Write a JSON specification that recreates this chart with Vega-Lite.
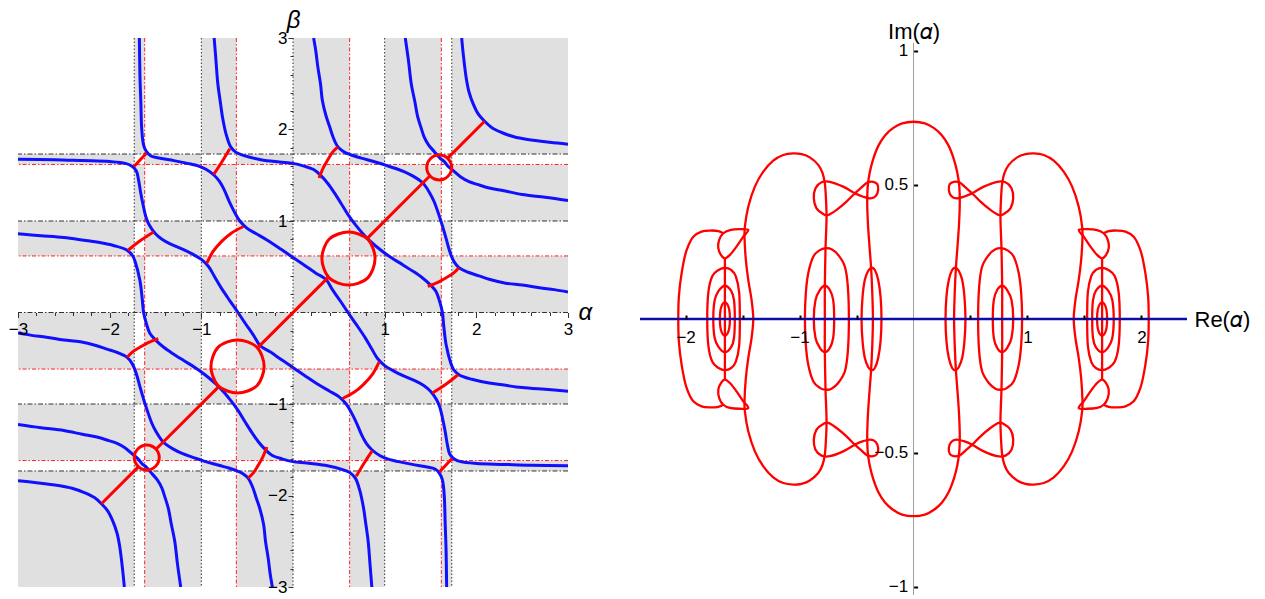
{
  "$schema": "https://vega.github.io/schema/vega-lite/v6.json",
  "background": "white",
  "padding": {"left": 8, "top": 8, "right": 4, "bottom": 4},
  "autosize": {"type": "pad"},
  "bounds": "flush",
  "spacing": 72,
  "config": {
    "view": {"stroke": null},
    "font": "Liberation Sans",
    "axis": {"grid": false, "labelFont": "Liberation Sans", "titleFont": "Liberation Sans", "labelColor": "black", "titleColor": "black", "tickColor": "black", "titleFontWeight": "normal", "labelFlush": false, "labelOverlap": false}
  },
  "datasets": {
    "cells": [
      {"x": -3, "x2": -1.732, "y": -3, "y2": -1.732}, {"x": -3, "x2": -1.732, "y": -1.618, "y2": -1}, {"x": -3, "x2": -1.732, "y": -0.618, "y2": 0}, {"x": -3, "x2": -1.732, "y": 0.618, "y2": 1}, {"x": -3, "x2": -1.732, "y": 1.618, "y2": 1.732},
      {"x": -1.618, "x2": -1, "y": -3, "y2": -1.732}, {"x": -1.618, "x2": -1, "y": -1.618, "y2": -1}, {"x": -1.618, "x2": -1, "y": -0.618, "y2": 0}, {"x": -1.618, "x2": -1, "y": 0.618, "y2": 1}, {"x": -1.618, "x2": -1, "y": 1.618, "y2": 1.732},
      {"x": -0.618, "x2": 0, "y": -3, "y2": -1.732}, {"x": -0.618, "x2": 0, "y": -1.618, "y2": -1}, {"x": -0.618, "x2": 0, "y": -0.618, "y2": 0}, {"x": -0.618, "x2": 0, "y": 0.618, "y2": 1}, {"x": -0.618, "x2": 0, "y": 1.618, "y2": 1.732},
      {"x": 0.618, "x2": 1, "y": -3, "y2": -1.732}, {"x": 0.618, "x2": 1, "y": -1.618, "y2": -1}, {"x": 0.618, "x2": 1, "y": -0.618, "y2": 0}, {"x": 0.618, "x2": 1, "y": 0.618, "y2": 1}, {"x": 0.618, "x2": 1, "y": 1.618, "y2": 1.732},
      {"x": 1.618, "x2": 1.732, "y": -3, "y2": -1.732}, {"x": 1.618, "x2": 1.732, "y": -1.618, "y2": -1}, {"x": 1.618, "x2": 1.732, "y": -0.618, "y2": 0}, {"x": 1.618, "x2": 1.732, "y": 0.618, "y2": 1}, {"x": 1.618, "x2": 1.732, "y": 1.618, "y2": 1.732},
      {"x": -1.732, "x2": -1.618, "y": -1.732, "y2": -1.618}, {"x": -1.732, "x2": -1.618, "y": -1, "y2": -0.618}, {"x": -1.732, "x2": -1.618, "y": 0, "y2": 0.618}, {"x": -1.732, "x2": -1.618, "y": 1, "y2": 1.618}, {"x": -1.732, "x2": -1.618, "y": 1.732, "y2": 3},
      {"x": -1, "x2": -0.618, "y": -1.732, "y2": -1.618}, {"x": -1, "x2": -0.618, "y": -1, "y2": -0.618}, {"x": -1, "x2": -0.618, "y": 0, "y2": 0.618}, {"x": -1, "x2": -0.618, "y": 1, "y2": 1.618}, {"x": -1, "x2": -0.618, "y": 1.732, "y2": 3},
      {"x": 0, "x2": 0.618, "y": -1.732, "y2": -1.618}, {"x": 0, "x2": 0.618, "y": -1, "y2": -0.618}, {"x": 0, "x2": 0.618, "y": 0, "y2": 0.618}, {"x": 0, "x2": 0.618, "y": 1, "y2": 1.618}, {"x": 0, "x2": 0.618, "y": 1.732, "y2": 3},
      {"x": 1, "x2": 1.618, "y": -1.732, "y2": -1.618}, {"x": 1, "x2": 1.618, "y": -1, "y2": -0.618}, {"x": 1, "x2": 1.618, "y": 0, "y2": 0.618}, {"x": 1, "x2": 1.618, "y": 1, "y2": 1.618}, {"x": 1, "x2": 1.618, "y": 1.732, "y2": 3},
      {"x": 1.732, "x2": 3, "y": -1.732, "y2": -1.618}, {"x": 1.732, "x2": 3, "y": -1, "y2": -0.618}, {"x": 1.732, "x2": 3, "y": 0, "y2": 0.618}, {"x": 1.732, "x2": 3, "y": 1, "y2": 1.618}, {"x": 1.732, "x2": 3, "y": 1.732, "y2": 3}
    ],
    "blk": [{"v": -1.732}, {"v": -1}, {"v": 0}, {"v": 1}, {"v": 1.732}],
    "rdl": [{"v": -1.618}, {"v": -0.618}, {"v": 0.618}, {"v": 1.618}],
    "blue": [
      {"c":"b1","x":1.84,"y":3},{"c":"b1","x":1.86,"y":2.8},{"c":"b1","x":1.89,"y":2.56},{"c":"b1","x":1.92,"y":2.41},{"c":"b1","x":1.97,"y":2.27},{"c":"b1","x":2.02,"y":2.17},{"c":"b1","x":2.09,"y":2.09},{"c":"b1","x":2.17,"y":2.02},{"c":"b1","x":2.27,"y":1.97},{"c":"b1","x":2.41,"y":1.92},{"c":"b1","x":2.56,"y":1.89},{"c":"b1","x":2.8,"y":1.86},{"c":"b1","x":3,"y":1.84},
      {"c":"b1n","x":-1.84,"y":-3},{"c":"b1n","x":-1.86,"y":-2.8},{"c":"b1n","x":-1.89,"y":-2.56},{"c":"b1n","x":-1.92,"y":-2.41},{"c":"b1n","x":-1.97,"y":-2.27},{"c":"b1n","x":-2.02,"y":-2.17},{"c":"b1n","x":-2.09,"y":-2.09},{"c":"b1n","x":-2.17,"y":-2.02},{"c":"b1n","x":-2.27,"y":-1.97},{"c":"b1n","x":-2.41,"y":-1.92},{"c":"b1n","x":-2.56,"y":-1.89},{"c":"b1n","x":-2.8,"y":-1.86},{"c":"b1n","x":-3,"y":-1.84},
      {"c":"b2","x":1.225,"y":3},{"c":"b2","x":1.26,"y":2.75},{"c":"b2","x":1.29,"y":2.5},{"c":"b2","x":1.33,"y":2.3},{"c":"b2","x":1.36,"y":2.14},{"c":"b2","x":1.4,"y":2.01},{"c":"b2","x":1.43,"y":1.92},{"c":"b2","x":1.48,"y":1.83},{"c":"b2","x":1.54,"y":1.76},{"c":"b2","x":1.6,"y":1.69},{"c":"b2","x":1.65,"y":1.65},{"c":"b2","x":1.69,"y":1.6},{"c":"b2","x":1.76,"y":1.54},{"c":"b2","x":1.83,"y":1.48},{"c":"b2","x":1.92,"y":1.43},{"c":"b2","x":2.01,"y":1.4},{"c":"b2","x":2.14,"y":1.36},{"c":"b2","x":2.3,"y":1.33},{"c":"b2","x":2.5,"y":1.29},{"c":"b2","x":2.75,"y":1.26},{"c":"b2","x":3,"y":1.225},
      {"c":"b2n","x":-1.225,"y":-3},{"c":"b2n","x":-1.26,"y":-2.75},{"c":"b2n","x":-1.29,"y":-2.5},{"c":"b2n","x":-1.33,"y":-2.3},{"c":"b2n","x":-1.36,"y":-2.14},{"c":"b2n","x":-1.4,"y":-2.01},{"c":"b2n","x":-1.43,"y":-1.92},{"c":"b2n","x":-1.48,"y":-1.83},{"c":"b2n","x":-1.54,"y":-1.76},{"c":"b2n","x":-1.6,"y":-1.69},{"c":"b2n","x":-1.65,"y":-1.65},{"c":"b2n","x":-1.69,"y":-1.6},{"c":"b2n","x":-1.76,"y":-1.54},{"c":"b2n","x":-1.83,"y":-1.48},{"c":"b2n","x":-1.92,"y":-1.43},{"c":"b2n","x":-2.01,"y":-1.4},{"c":"b2n","x":-2.14,"y":-1.36},{"c":"b2n","x":-2.3,"y":-1.33},{"c":"b2n","x":-2.5,"y":-1.29},{"c":"b2n","x":-2.75,"y":-1.26},{"c":"b2n","x":-3,"y":-1.225},
      {"c":"b3","x":0.225,"y":3},{"c":"b3","x":0.25,"y":2.85},{"c":"b3","x":0.27,"y":2.69},{"c":"b3","x":0.3,"y":2.5},{"c":"b3","x":0.32,"y":2.32},{"c":"b3","x":0.36,"y":2.15},{"c":"b3","x":0.4,"y":2.03},{"c":"b3","x":0.44,"y":1.91},{"c":"b3","x":0.49,"y":1.81},{"c":"b3","x":0.55,"y":1.76},{"c":"b3","x":0.61,"y":1.73},{"c":"b3","x":0.7,"y":1.7},{"c":"b3","x":0.81,"y":1.67},{"c":"b3","x":1.01,"y":1.61},{"c":"b3","x":1.21,"y":1.54},{"c":"b3","x":1.31,"y":1.49},{"c":"b3","x":1.4,"y":1.43},{"c":"b3","x":1.43,"y":1.4},{"c":"b3","x":1.49,"y":1.31},{"c":"b3","x":1.54,"y":1.21},{"c":"b3","x":1.61,"y":1.01},{"c":"b3","x":1.67,"y":0.81},{"c":"b3","x":1.7,"y":0.7},{"c":"b3","x":1.73,"y":0.61},{"c":"b3","x":1.76,"y":0.55},{"c":"b3","x":1.81,"y":0.49},{"c":"b3","x":1.91,"y":0.44},{"c":"b3","x":2.03,"y":0.4},{"c":"b3","x":2.15,"y":0.36},{"c":"b3","x":2.32,"y":0.32},{"c":"b3","x":2.5,"y":0.3},{"c":"b3","x":2.69,"y":0.27},{"c":"b3","x":2.85,"y":0.25},{"c":"b3","x":3,"y":0.225},
      {"c":"b3n","x":-0.225,"y":-3},{"c":"b3n","x":-0.25,"y":-2.85},{"c":"b3n","x":-0.27,"y":-2.69},{"c":"b3n","x":-0.3,"y":-2.5},{"c":"b3n","x":-0.32,"y":-2.32},{"c":"b3n","x":-0.36,"y":-2.15},{"c":"b3n","x":-0.4,"y":-2.03},{"c":"b3n","x":-0.44,"y":-1.91},{"c":"b3n","x":-0.49,"y":-1.81},{"c":"b3n","x":-0.55,"y":-1.76},{"c":"b3n","x":-0.61,"y":-1.73},{"c":"b3n","x":-0.7,"y":-1.7},{"c":"b3n","x":-0.81,"y":-1.67},{"c":"b3n","x":-1.01,"y":-1.61},{"c":"b3n","x":-1.21,"y":-1.54},{"c":"b3n","x":-1.31,"y":-1.49},{"c":"b3n","x":-1.4,"y":-1.43},{"c":"b3n","x":-1.43,"y":-1.4},{"c":"b3n","x":-1.49,"y":-1.31},{"c":"b3n","x":-1.54,"y":-1.21},{"c":"b3n","x":-1.61,"y":-1.01},{"c":"b3n","x":-1.67,"y":-0.81},{"c":"b3n","x":-1.7,"y":-0.7},{"c":"b3n","x":-1.73,"y":-0.61},{"c":"b3n","x":-1.76,"y":-0.55},{"c":"b3n","x":-1.81,"y":-0.49},{"c":"b3n","x":-1.91,"y":-0.44},{"c":"b3n","x":-2.03,"y":-0.4},{"c":"b3n","x":-2.15,"y":-0.36},{"c":"b3n","x":-2.32,"y":-0.32},{"c":"b3n","x":-2.5,"y":-0.3},{"c":"b3n","x":-2.69,"y":-0.27},{"c":"b3n","x":-2.85,"y":-0.25},{"c":"b3n","x":-3,"y":-0.225},
      {"c":"b4p","x":-1.676,"y":3},{"c":"b4p","x":-1.67,"y":2.6},{"c":"b4p","x":-1.66,"y":2.3},{"c":"b4p","x":-1.65,"y":2},{"c":"b4p","x":-1.63,"y":1.83},{"c":"b4p","x":-1.6,"y":1.76},{"c":"b4p","x":-1.55,"y":1.71},{"c":"b4p","x":-1.45,"y":1.685},{"c":"b4p","x":-1.3,"y":1.66},{"c":"b4p","x":-1.15,"y":1.63},{"c":"b4p","x":-1.03,"y":1.6},{"c":"b4p","x":-0.95,"y":1.565},{"c":"b4p","x":-0.86,"y":1.5},{"c":"b4p","x":-0.8,"y":1.43},{"c":"b4p","x":-0.75,"y":1.34},{"c":"b4p","x":-0.69,"y":1.2},{"c":"b4p","x":-0.64,"y":1.1},{"c":"b4p","x":-0.58,"y":1},{"c":"b4p","x":-0.5,"y":0.92},{"c":"b4p","x":-0.4,"y":0.86},{"c":"b4p","x":-0.28,"y":0.79},{"c":"b4p","x":-0.13,"y":0.69},{"c":"b4p","x":0,"y":0.6},{"c":"b4p","x":0.12,"y":0.52},{"c":"b4p","x":0.25,"y":0.43},{"c":"b4p","x":0.36,"y":0.36},{"c":"b4p","x":0.43,"y":0.25},{"c":"b4p","x":0.52,"y":0.12},{"c":"b4p","x":0.6,"y":0},{"c":"b4p","x":0.69,"y":-0.13},{"c":"b4p","x":0.79,"y":-0.28},{"c":"b4p","x":0.86,"y":-0.4},{"c":"b4p","x":0.92,"y":-0.5},{"c":"b4p","x":1,"y":-0.58},{"c":"b4p","x":1.1,"y":-0.64},{"c":"b4p","x":1.2,"y":-0.69},{"c":"b4p","x":1.34,"y":-0.75},{"c":"b4p","x":1.43,"y":-0.8},{"c":"b4p","x":1.5,"y":-0.86},{"c":"b4p","x":1.565,"y":-0.95},{"c":"b4p","x":1.6,"y":-1.03},{"c":"b4p","x":1.63,"y":-1.15},{"c":"b4p","x":1.66,"y":-1.3},{"c":"b4p","x":1.685,"y":-1.45},{"c":"b4p","x":1.71,"y":-1.55},{"c":"b4p","x":1.76,"y":-1.6},{"c":"b4p","x":1.83,"y":-1.63},{"c":"b4p","x":2,"y":-1.65},{"c":"b4p","x":2.3,"y":-1.66},{"c":"b4p","x":2.6,"y":-1.67},{"c":"b4p","x":3,"y":-1.676},
      {"c":"b4","x":1.676,"y":-3},{"c":"b4","x":1.67,"y":-2.6},{"c":"b4","x":1.66,"y":-2.3},{"c":"b4","x":1.65,"y":-2},{"c":"b4","x":1.63,"y":-1.83},{"c":"b4","x":1.6,"y":-1.76},{"c":"b4","x":1.55,"y":-1.71},{"c":"b4","x":1.45,"y":-1.685},{"c":"b4","x":1.3,"y":-1.66},{"c":"b4","x":1.15,"y":-1.63},{"c":"b4","x":1.03,"y":-1.6},{"c":"b4","x":0.95,"y":-1.565},{"c":"b4","x":0.86,"y":-1.5},{"c":"b4","x":0.8,"y":-1.43},{"c":"b4","x":0.75,"y":-1.34},{"c":"b4","x":0.69,"y":-1.2},{"c":"b4","x":0.64,"y":-1.1},{"c":"b4","x":0.58,"y":-1},{"c":"b4","x":0.5,"y":-0.92},{"c":"b4","x":0.4,"y":-0.86},{"c":"b4","x":0.28,"y":-0.79},{"c":"b4","x":0.13,"y":-0.69},{"c":"b4","x":0,"y":-0.6},{"c":"b4","x":-0.12,"y":-0.52},{"c":"b4","x":-0.25,"y":-0.43},{"c":"b4","x":-0.36,"y":-0.36},{"c":"b4","x":-0.43,"y":-0.25},{"c":"b4","x":-0.52,"y":-0.12},{"c":"b4","x":-0.6,"y":0},{"c":"b4","x":-0.69,"y":0.13},{"c":"b4","x":-0.79,"y":0.28},{"c":"b4","x":-0.86,"y":0.4},{"c":"b4","x":-0.92,"y":0.5},{"c":"b4","x":-1,"y":0.58},{"c":"b4","x":-1.1,"y":0.64},{"c":"b4","x":-1.2,"y":0.69},{"c":"b4","x":-1.34,"y":0.75},{"c":"b4","x":-1.43,"y":0.8},{"c":"b4","x":-1.5,"y":0.86},{"c":"b4","x":-1.565,"y":0.95},{"c":"b4","x":-1.6,"y":1.03},{"c":"b4","x":-1.63,"y":1.15},{"c":"b4","x":-1.66,"y":1.3},{"c":"b4","x":-1.685,"y":1.45},{"c":"b4","x":-1.71,"y":1.55},{"c":"b4","x":-1.76,"y":1.6},{"c":"b4","x":-1.83,"y":1.63},{"c":"b4","x":-2,"y":1.65},{"c":"b4","x":-2.3,"y":1.66},{"c":"b4","x":-2.6,"y":1.67},{"c":"b4","x":-3,"y":1.676},
      {"c":"b5p","x":-0.86,"y":3},{"c":"b5p","x":-0.84,"y":2.75},{"c":"b5p","x":-0.82,"y":2.5},{"c":"b5p","x":-0.79,"y":2.28},{"c":"b5p","x":-0.77,"y":2.14},{"c":"b5p","x":-0.73,"y":1.95},{"c":"b5p","x":-0.68,"y":1.81},{"c":"b5p","x":-0.62,"y":1.75},{"c":"b5p","x":-0.55,"y":1.72},{"c":"b5p","x":-0.35,"y":1.67},{"c":"b5p","x":-0.15,"y":1.645},{"c":"b5p","x":0,"y":1.63},{"c":"b5p","x":0.12,"y":1.6},{"c":"b5p","x":0.23,"y":1.56},{"c":"b5p","x":0.31,"y":1.49},{"c":"b5p","x":0.38,"y":1.41},{"c":"b5p","x":0.45,"y":1.31},{"c":"b5p","x":0.52,"y":1.2},{"c":"b5p","x":0.6,"y":1.07},{"c":"b5p","x":0.68,"y":0.96},{"c":"b5p","x":0.81,"y":0.81},{"c":"b5p","x":0.96,"y":0.68},{"c":"b5p","x":1.07,"y":0.6},{"c":"b5p","x":1.2,"y":0.52},{"c":"b5p","x":1.31,"y":0.45},{"c":"b5p","x":1.41,"y":0.38},{"c":"b5p","x":1.49,"y":0.31},{"c":"b5p","x":1.56,"y":0.23},{"c":"b5p","x":1.6,"y":0.12},{"c":"b5p","x":1.63,"y":0},{"c":"b5p","x":1.645,"y":-0.15},{"c":"b5p","x":1.67,"y":-0.35},{"c":"b5p","x":1.72,"y":-0.55},{"c":"b5p","x":1.75,"y":-0.62},{"c":"b5p","x":1.81,"y":-0.68},{"c":"b5p","x":1.95,"y":-0.73},{"c":"b5p","x":2.14,"y":-0.77},{"c":"b5p","x":2.28,"y":-0.79},{"c":"b5p","x":2.5,"y":-0.82},{"c":"b5p","x":2.75,"y":-0.84},{"c":"b5p","x":3,"y":-0.86},
      {"c":"b5","x":0.86,"y":-3},{"c":"b5","x":0.84,"y":-2.75},{"c":"b5","x":0.82,"y":-2.5},{"c":"b5","x":0.79,"y":-2.28},{"c":"b5","x":0.77,"y":-2.14},{"c":"b5","x":0.73,"y":-1.95},{"c":"b5","x":0.68,"y":-1.81},{"c":"b5","x":0.62,"y":-1.75},{"c":"b5","x":0.55,"y":-1.72},{"c":"b5","x":0.35,"y":-1.67},{"c":"b5","x":0.15,"y":-1.645},{"c":"b5","x":0,"y":-1.63},{"c":"b5","x":-0.12,"y":-1.6},{"c":"b5","x":-0.23,"y":-1.56},{"c":"b5","x":-0.31,"y":-1.49},{"c":"b5","x":-0.38,"y":-1.41},{"c":"b5","x":-0.45,"y":-1.31},{"c":"b5","x":-0.52,"y":-1.2},{"c":"b5","x":-0.6,"y":-1.07},{"c":"b5","x":-0.68,"y":-0.96},{"c":"b5","x":-0.81,"y":-0.81},{"c":"b5","x":-0.96,"y":-0.68},{"c":"b5","x":-1.07,"y":-0.6},{"c":"b5","x":-1.2,"y":-0.52},{"c":"b5","x":-1.31,"y":-0.45},{"c":"b5","x":-1.41,"y":-0.38},{"c":"b5","x":-1.49,"y":-0.31},{"c":"b5","x":-1.56,"y":-0.23},{"c":"b5","x":-1.6,"y":-0.12},{"c":"b5","x":-1.63,"y":0},{"c":"b5","x":-1.645,"y":0.15},{"c":"b5","x":-1.67,"y":0.35},{"c":"b5","x":-1.72,"y":0.55},{"c":"b5","x":-1.75,"y":0.62},{"c":"b5","x":-1.81,"y":0.68},{"c":"b5","x":-1.95,"y":0.73},{"c":"b5","x":-2.14,"y":0.77},{"c":"b5","x":-2.28,"y":0.79},{"c":"b5","x":-2.5,"y":0.82},{"c":"b5","x":-2.75,"y":0.84},{"c":"b5","x":-3,"y":0.86}
    ],
    "redOpen": [
      {"c":"r1","x":-1.735,"y":1.595},{"c":"r1","x":-1.6,"y":1.74},
      {"c":"r2","x":-0.865,"y":1.51},{"c":"r2","x":-0.78,"y":1.64},{"c":"r2","x":-0.69,"y":1.79},
      {"c":"r3","x":-1.8,"y":0.68},{"c":"r3","x":-1.66,"y":0.79},{"c":"r3","x":-1.52,"y":0.88},
      {"c":"r4","x":-0.94,"y":0.54},{"c":"r4","x":-0.87,"y":0.67},{"c":"r4","x":-0.77,"y":0.785},{"c":"r4","x":-0.67,"y":0.87},{"c":"r4","x":-0.54,"y":0.94},
      {"c":"r5","x":0.285,"y":1.47},{"c":"r5","x":0.33,"y":1.58},{"c":"r5","x":0.38,"y":1.67},{"c":"r5","x":0.43,"y":1.75},{"c":"r5","x":0.49,"y":1.81},
      {"c":"r6","x":1.47,"y":0.285},{"c":"r6","x":1.58,"y":0.33},{"c":"r6","x":1.67,"y":0.38},{"c":"r6","x":1.75,"y":0.43},{"c":"r6","x":1.81,"y":0.49},
      {"c":"r7","x":-1.47,"y":-0.285},{"c":"r7","x":-1.58,"y":-0.33},{"c":"r7","x":-1.67,"y":-0.38},{"c":"r7","x":-1.75,"y":-0.43},{"c":"r7","x":-1.81,"y":-0.49},
      {"c":"r8","x":-0.285,"y":-1.47},{"c":"r8","x":-0.33,"y":-1.58},{"c":"r8","x":-0.38,"y":-1.67},{"c":"r8","x":-0.43,"y":-1.75},{"c":"r8","x":-0.49,"y":-1.81},
      {"c":"r10","x":0.94,"y":-0.54},{"c":"r10","x":0.87,"y":-0.67},{"c":"r10","x":0.77,"y":-0.785},{"c":"r10","x":0.67,"y":-0.87},{"c":"r10","x":0.54,"y":-0.94},
      {"c":"r11","x":1.8,"y":-0.68},{"c":"r11","x":1.66,"y":-0.79},{"c":"r11","x":1.52,"y":-0.88},
      {"c":"r12","x":0.865,"y":-1.51},{"c":"r12","x":0.78,"y":-1.64},{"c":"r12","x":0.69,"y":-1.79},
      {"c":"r13","x":1.735,"y":-1.595},{"c":"r13","x":1.6,"y":-1.74},
      {"c":"d1","x":-2.09,"y":-2.09},{"c":"d1","x":-1.685,"y":-1.685},
      {"c":"d2","x":-1.495,"y":-1.495},{"c":"d2","x":-0.81,"y":-0.81},
      {"c":"d3","x":-0.39,"y":-0.39},{"c":"d3","x":0.39,"y":0.39},
      {"c":"d4","x":0.81,"y":0.81},{"c":"d4","x":1.495,"y":1.495},
      {"c":"d5","x":1.685,"y":1.685},{"c":"d5","x":2.09,"y":2.09}
    ],
    "redRing": [
      {"c":"c1","x":0.895,"y":0.59},{"c":"c1","x":0.873,"y":0.701},{"c":"c1","x":0.816,"y":0.801},{"c":"c1","x":0.716,"y":0.858},{"c":"c1","x":0.605,"y":0.88},{"c":"c1","x":0.494,"y":0.858},{"c":"c1","x":0.394,"y":0.801},{"c":"c1","x":0.337,"y":0.701},{"c":"c1","x":0.315,"y":0.59},{"c":"c1","x":0.337,"y":0.479},{"c":"c1","x":0.394,"y":0.379},{"c":"c1","x":0.494,"y":0.322},{"c":"c1","x":0.605,"y":0.3},{"c":"c1","x":0.716,"y":0.322},{"c":"c1","x":0.816,"y":0.379},{"c":"c1","x":0.873,"y":0.479},
      {"c":"c1n","x":-0.895,"y":-0.59},{"c":"c1n","x":-0.873,"y":-0.701},{"c":"c1n","x":-0.816,"y":-0.801},{"c":"c1n","x":-0.716,"y":-0.858},{"c":"c1n","x":-0.605,"y":-0.88},{"c":"c1n","x":-0.494,"y":-0.858},{"c":"c1n","x":-0.394,"y":-0.801},{"c":"c1n","x":-0.337,"y":-0.701},{"c":"c1n","x":-0.315,"y":-0.59},{"c":"c1n","x":-0.337,"y":-0.479},{"c":"c1n","x":-0.394,"y":-0.379},{"c":"c1n","x":-0.494,"y":-0.322},{"c":"c1n","x":-0.605,"y":-0.3},{"c":"c1n","x":-0.716,"y":-0.322},{"c":"c1n","x":-0.816,"y":-0.379},{"c":"c1n","x":-0.873,"y":-0.479},
      {"c":"c2","x":1.731,"y":1.585},{"c":"c2","x":1.721,"y":1.637},{"c":"c2","x":1.691,"y":1.681},{"c":"c2","x":1.647,"y":1.711},{"c":"c2","x":1.595,"y":1.721},{"c":"c2","x":1.543,"y":1.711},{"c":"c2","x":1.499,"y":1.681},{"c":"c2","x":1.469,"y":1.637},{"c":"c2","x":1.459,"y":1.585},{"c":"c2","x":1.469,"y":1.533},{"c":"c2","x":1.499,"y":1.489},{"c":"c2","x":1.543,"y":1.459},{"c":"c2","x":1.595,"y":1.449},{"c":"c2","x":1.647,"y":1.459},{"c":"c2","x":1.691,"y":1.489},{"c":"c2","x":1.721,"y":1.533},
      {"c":"c2n","x":-1.731,"y":-1.585},{"c":"c2n","x":-1.721,"y":-1.637},{"c":"c2n","x":-1.691,"y":-1.681},{"c":"c2n","x":-1.647,"y":-1.711},{"c":"c2n","x":-1.595,"y":-1.721},{"c":"c2n","x":-1.543,"y":-1.711},{"c":"c2n","x":-1.499,"y":-1.681},{"c":"c2n","x":-1.469,"y":-1.637},{"c":"c2n","x":-1.459,"y":-1.585},{"c":"c2n","x":-1.469,"y":-1.533},{"c":"c2n","x":-1.499,"y":-1.489},{"c":"c2n","x":-1.543,"y":-1.459},{"c":"c2n","x":-1.595,"y":-1.449},{"c":"c2n","x":-1.647,"y":-1.459},{"c":"c2n","x":-1.691,"y":-1.489},{"c":"c2n","x":-1.721,"y":-1.533}
    ],
    "loops": [
      {"c":"cA","x":0,"y":0.736},{"c":"cA","x":0.1,"y":0.73},{"c":"cA","x":0.18,"y":0.712},{"c":"cA","x":0.25,"y":0.685},{"c":"cA","x":0.31,"y":0.645},{"c":"cA","x":0.355,"y":0.595},{"c":"cA","x":0.385,"y":0.545},{"c":"cA","x":0.402,"y":0.494},{"c":"cA","x":0.406,"y":0.43},{"c":"cA","x":0.399,"y":0.35},{"c":"cA","x":0.386,"y":0.27},{"c":"cA","x":0.372,"y":0.19},{"c":"cA","x":0.362,"y":0.1},{"c":"cA","x":0.356,"y":0},{"c":"cA","x":0.362,"y":-0.1},{"c":"cA","x":0.372,"y":-0.19},{"c":"cA","x":0.386,"y":-0.27},{"c":"cA","x":0.399,"y":-0.35},{"c":"cA","x":0.406,"y":-0.43},{"c":"cA","x":0.402,"y":-0.494},{"c":"cA","x":0.385,"y":-0.545},{"c":"cA","x":0.355,"y":-0.595},{"c":"cA","x":0.31,"y":-0.645},{"c":"cA","x":0.25,"y":-0.685},{"c":"cA","x":0.18,"y":-0.712},{"c":"cA","x":0.1,"y":-0.73},{"c":"cA","x":0,"y":-0.736},{"c":"cA","x":-0.1,"y":-0.73},{"c":"cA","x":-0.18,"y":-0.712},{"c":"cA","x":-0.25,"y":-0.685},{"c":"cA","x":-0.31,"y":-0.645},{"c":"cA","x":-0.355,"y":-0.595},{"c":"cA","x":-0.385,"y":-0.545},{"c":"cA","x":-0.402,"y":-0.494},{"c":"cA","x":-0.406,"y":-0.43},{"c":"cA","x":-0.399,"y":-0.35},{"c":"cA","x":-0.386,"y":-0.27},{"c":"cA","x":-0.372,"y":-0.19},{"c":"cA","x":-0.362,"y":-0.1},{"c":"cA","x":-0.356,"y":0},{"c":"cA","x":-0.362,"y":0.1},{"c":"cA","x":-0.372,"y":0.19},{"c":"cA","x":-0.386,"y":0.27},{"c":"cA","x":-0.399,"y":0.35},{"c":"cA","x":-0.406,"y":0.43},{"c":"cA","x":-0.402,"y":0.494},{"c":"cA","x":-0.385,"y":0.545},{"c":"cA","x":-0.355,"y":0.595},{"c":"cA","x":-0.31,"y":0.645},{"c":"cA","x":-0.25,"y":0.685},{"c":"cA","x":-0.18,"y":0.712},{"c":"cA","x":-0.1,"y":0.73},
      {"c":"oAr","x":0.281,"y":0},{"c":"oAr","x":0.289,"y":0.083},{"c":"oAr","x":0.31,"y":0.146},{"c":"oAr","x":0.339,"y":0.183},{"c":"oAr","x":0.368,"y":0.191},{"c":"oAr","x":0.397,"y":0.18},{"c":"oAr","x":0.427,"y":0.146},{"c":"oAr","x":0.447,"y":0.083},{"c":"oAr","x":0.456,"y":0},{"c":"oAr","x":0.447,"y":-0.083},{"c":"oAr","x":0.427,"y":-0.146},{"c":"oAr","x":0.397,"y":-0.18},{"c":"oAr","x":0.368,"y":-0.191},{"c":"oAr","x":0.339,"y":-0.183},{"c":"oAr","x":0.31,"y":-0.146},{"c":"oAr","x":0.289,"y":-0.083},
      {"c":"oAl","x":-0.281,"y":0},{"c":"oAl","x":-0.289,"y":0.083},{"c":"oAl","x":-0.31,"y":0.146},{"c":"oAl","x":-0.339,"y":0.183},{"c":"oAl","x":-0.368,"y":0.191},{"c":"oAl","x":-0.397,"y":0.18},{"c":"oAl","x":-0.427,"y":0.146},{"c":"oAl","x":-0.447,"y":0.083},{"c":"oAl","x":-0.456,"y":0},{"c":"oAl","x":-0.447,"y":-0.083},{"c":"oAl","x":-0.427,"y":-0.146},{"c":"oAl","x":-0.397,"y":-0.18},{"c":"oAl","x":-0.368,"y":-0.191},{"c":"oAl","x":-0.339,"y":-0.183},{"c":"oAl","x":-0.31,"y":-0.146},{"c":"oAl","x":-0.289,"y":-0.083},
      {"c":"cBr","x":0.778,"y":0},{"c":"cBr","x":0.778,"y":0.124},{"c":"cBr","x":0.772,"y":0.264},{"c":"cBr","x":0.766,"y":0.332},{"c":"cBr","x":0.763,"y":0.388},{"c":"cBr","x":0.769,"y":0.456},{"c":"cBr","x":0.778,"y":0.506},{"c":"cBr","x":0.798,"y":0.544},{"c":"cBr","x":0.836,"y":0.575},{"c":"cBr","x":0.91,"y":0.603},{"c":"cBr","x":0.982,"y":0.615},{"c":"cBr","x":1.055,"y":0.618},{"c":"cBr","x":1.143,"y":0.612},{"c":"cBr","x":1.231,"y":0.591},{"c":"cBr","x":1.318,"y":0.55},{"c":"cBr","x":1.392,"y":0.494},{"c":"cBr","x":1.45,"y":0.419},{"c":"cBr","x":1.48,"y":0.344},{"c":"cBr","x":1.482,"y":0.295},{"c":"cBr","x":1.471,"y":0.22},{"c":"cBr","x":1.45,"y":0.146},{"c":"cBr","x":1.421,"y":0.071},{"c":"cBr","x":1.406,"y":0},{"c":"cBr","x":1.421,"y":-0.071},{"c":"cBr","x":1.45,"y":-0.146},{"c":"cBr","x":1.471,"y":-0.22},{"c":"cBr","x":1.482,"y":-0.295},{"c":"cBr","x":1.48,"y":-0.344},{"c":"cBr","x":1.45,"y":-0.419},{"c":"cBr","x":1.392,"y":-0.494},{"c":"cBr","x":1.318,"y":-0.55},{"c":"cBr","x":1.231,"y":-0.591},{"c":"cBr","x":1.143,"y":-0.612},{"c":"cBr","x":1.055,"y":-0.618},{"c":"cBr","x":0.982,"y":-0.615},{"c":"cBr","x":0.91,"y":-0.603},{"c":"cBr","x":0.836,"y":-0.575},{"c":"cBr","x":0.798,"y":-0.544},{"c":"cBr","x":0.778,"y":-0.506},{"c":"cBr","x":0.769,"y":-0.456},{"c":"cBr","x":0.763,"y":-0.388},{"c":"cBr","x":0.766,"y":-0.332},{"c":"cBr","x":0.772,"y":-0.264},{"c":"cBr","x":0.778,"y":-0.124},
      {"c":"cBl","x":-0.778,"y":0},{"c":"cBl","x":-0.778,"y":0.124},{"c":"cBl","x":-0.772,"y":0.264},{"c":"cBl","x":-0.766,"y":0.332},{"c":"cBl","x":-0.763,"y":0.388},{"c":"cBl","x":-0.769,"y":0.456},{"c":"cBl","x":-0.778,"y":0.506},{"c":"cBl","x":-0.798,"y":0.544},{"c":"cBl","x":-0.836,"y":0.575},{"c":"cBl","x":-0.91,"y":0.603},{"c":"cBl","x":-0.982,"y":0.615},{"c":"cBl","x":-1.055,"y":0.618},{"c":"cBl","x":-1.143,"y":0.612},{"c":"cBl","x":-1.231,"y":0.591},{"c":"cBl","x":-1.318,"y":0.55},{"c":"cBl","x":-1.392,"y":0.494},{"c":"cBl","x":-1.45,"y":0.419},{"c":"cBl","x":-1.48,"y":0.344},{"c":"cBl","x":-1.482,"y":0.295},{"c":"cBl","x":-1.471,"y":0.22},{"c":"cBl","x":-1.45,"y":0.146},{"c":"cBl","x":-1.421,"y":0.071},{"c":"cBl","x":-1.406,"y":0},{"c":"cBl","x":-1.421,"y":-0.071},{"c":"cBl","x":-1.45,"y":-0.146},{"c":"cBl","x":-1.471,"y":-0.22},{"c":"cBl","x":-1.482,"y":-0.295},{"c":"cBl","x":-1.48,"y":-0.344},{"c":"cBl","x":-1.45,"y":-0.419},{"c":"cBl","x":-1.392,"y":-0.494},{"c":"cBl","x":-1.318,"y":-0.55},{"c":"cBl","x":-1.231,"y":-0.591},{"c":"cBl","x":-1.143,"y":-0.612},{"c":"cBl","x":-1.055,"y":-0.618},{"c":"cBl","x":-0.982,"y":-0.615},{"c":"cBl","x":-0.91,"y":-0.603},{"c":"cBl","x":-0.836,"y":-0.575},{"c":"cBl","x":-0.798,"y":-0.544},{"c":"cBl","x":-0.778,"y":-0.506},{"c":"cBl","x":-0.769,"y":-0.456},{"c":"cBl","x":-0.763,"y":-0.388},{"c":"cBl","x":-0.766,"y":-0.332},{"c":"cBl","x":-0.772,"y":-0.264},{"c":"cBl","x":-0.778,"y":-0.124},
      {"c":"oB1r","x":0.567,"y":0},{"c":"oB1r","x":0.576,"y":0.12},{"c":"oB1r","x":0.602,"y":0.195},{"c":"oB1r","x":0.661,"y":0.239},{"c":"oB1r","x":0.719,"y":0.26},{"c":"oB1r","x":0.772,"y":0.264},{"c":"oB1r","x":0.822,"y":0.257},{"c":"oB1r","x":0.88,"y":0.232},{"c":"oB1r","x":0.924,"y":0.17},{"c":"oB1r","x":0.945,"y":0.096},{"c":"oB1r","x":0.953,"y":0},{"c":"oB1r","x":0.945,"y":-0.096},{"c":"oB1r","x":0.924,"y":-0.17},{"c":"oB1r","x":0.88,"y":-0.232},{"c":"oB1r","x":0.822,"y":-0.257},{"c":"oB1r","x":0.772,"y":-0.264},{"c":"oB1r","x":0.719,"y":-0.26},{"c":"oB1r","x":0.661,"y":-0.239},{"c":"oB1r","x":0.602,"y":-0.195},{"c":"oB1r","x":0.576,"y":-0.12},
      {"c":"oB1l","x":-0.567,"y":0},{"c":"oB1l","x":-0.576,"y":0.12},{"c":"oB1l","x":-0.602,"y":0.195},{"c":"oB1l","x":-0.661,"y":0.239},{"c":"oB1l","x":-0.719,"y":0.26},{"c":"oB1l","x":-0.772,"y":0.264},{"c":"oB1l","x":-0.822,"y":0.257},{"c":"oB1l","x":-0.88,"y":0.232},{"c":"oB1l","x":-0.924,"y":0.17},{"c":"oB1l","x":-0.945,"y":0.096},{"c":"oB1l","x":-0.953,"y":0},{"c":"oB1l","x":-0.945,"y":-0.096},{"c":"oB1l","x":-0.924,"y":-0.17},{"c":"oB1l","x":-0.88,"y":-0.232},{"c":"oB1l","x":-0.822,"y":-0.257},{"c":"oB1l","x":-0.772,"y":-0.264},{"c":"oB1l","x":-0.719,"y":-0.26},{"c":"oB1l","x":-0.661,"y":-0.239},{"c":"oB1l","x":-0.602,"y":-0.195},{"c":"oB1l","x":-0.576,"y":-0.12},
      {"c":"oB2r","x":0.696,"y":0},{"c":"oB2r","x":0.705,"y":0.071},{"c":"oB2r","x":0.734,"y":0.108},{"c":"oB2r","x":0.778,"y":0.124},{"c":"oB2r","x":0.822,"y":0.108},{"c":"oB2r","x":0.86,"y":0.071},{"c":"oB2r","x":0.875,"y":0},{"c":"oB2r","x":0.86,"y":-0.071},{"c":"oB2r","x":0.822,"y":-0.108},{"c":"oB2r","x":0.778,"y":-0.124},{"c":"oB2r","x":0.734,"y":-0.108},{"c":"oB2r","x":0.705,"y":-0.071},
      {"c":"oB2l","x":-0.696,"y":0},{"c":"oB2l","x":-0.705,"y":0.071},{"c":"oB2l","x":-0.734,"y":0.108},{"c":"oB2l","x":-0.778,"y":0.124},{"c":"oB2l","x":-0.822,"y":0.108},{"c":"oB2l","x":-0.86,"y":0.071},{"c":"oB2l","x":-0.875,"y":0},{"c":"oB2l","x":-0.86,"y":-0.071},{"c":"oB2l","x":-0.822,"y":-0.108},{"c":"oB2l","x":-0.778,"y":-0.124},{"c":"oB2l","x":-0.734,"y":-0.108},{"c":"oB2l","x":-0.705,"y":-0.071},
      {"c":"oC1r","x":1.611,"y":0},{"c":"oC1r","x":1.617,"y":0.035},{"c":"oC1r","x":1.635,"y":0.056},{"c":"oC1r","x":1.655,"y":0.062},{"c":"oC1r","x":1.675,"y":0.056},{"c":"oC1r","x":1.693,"y":0.035},{"c":"oC1r","x":1.699,"y":0},{"c":"oC1r","x":1.693,"y":-0.035},{"c":"oC1r","x":1.675,"y":-0.056},{"c":"oC1r","x":1.655,"y":-0.062},{"c":"oC1r","x":1.635,"y":-0.056},{"c":"oC1r","x":1.617,"y":-0.035},
      {"c":"oC1l","x":-1.611,"y":0},{"c":"oC1l","x":-1.617,"y":0.035},{"c":"oC1l","x":-1.635,"y":0.056},{"c":"oC1l","x":-1.655,"y":0.062},{"c":"oC1l","x":-1.675,"y":0.056},{"c":"oC1l","x":-1.693,"y":0.035},{"c":"oC1l","x":-1.699,"y":0},{"c":"oC1l","x":-1.693,"y":-0.035},{"c":"oC1l","x":-1.675,"y":-0.056},{"c":"oC1l","x":-1.655,"y":-0.062},{"c":"oC1l","x":-1.635,"y":-0.056},{"c":"oC1l","x":-1.617,"y":-0.035},
      {"c":"oC2r","x":1.568,"y":0},{"c":"oC2r","x":1.575,"y":0.07},{"c":"oC2r","x":1.6,"y":0.105},{"c":"oC2r","x":1.655,"y":0.124},{"c":"oC2r","x":1.71,"y":0.105},{"c":"oC2r","x":1.745,"y":0.07},{"c":"oC2r","x":1.757,"y":0},{"c":"oC2r","x":1.745,"y":-0.07},{"c":"oC2r","x":1.71,"y":-0.105},{"c":"oC2r","x":1.655,"y":-0.124},{"c":"oC2r","x":1.6,"y":-0.105},{"c":"oC2r","x":1.575,"y":-0.07},
      {"c":"oC2l","x":-1.568,"y":0},{"c":"oC2l","x":-1.575,"y":0.07},{"c":"oC2l","x":-1.6,"y":0.105},{"c":"oC2l","x":-1.655,"y":0.124},{"c":"oC2l","x":-1.71,"y":0.105},{"c":"oC2l","x":-1.745,"y":0.07},{"c":"oC2l","x":-1.757,"y":0},{"c":"oC2l","x":-1.745,"y":-0.07},{"c":"oC2l","x":-1.71,"y":-0.105},{"c":"oC2l","x":-1.655,"y":-0.124},{"c":"oC2l","x":-1.6,"y":-0.105},{"c":"oC2l","x":-1.575,"y":-0.07},
      {"c":"oC3r","x":1.524,"y":0},{"c":"oC3r","x":1.53,"y":0.1},{"c":"oC3r","x":1.56,"y":0.16},{"c":"oC3r","x":1.6,"y":0.183},{"c":"oC3r","x":1.655,"y":0.191},{"c":"oC3r","x":1.71,"y":0.183},{"c":"oC3r","x":1.765,"y":0.16},{"c":"oC3r","x":1.8,"y":0.1},{"c":"oC3r","x":1.81,"y":0},{"c":"oC3r","x":1.8,"y":-0.1},{"c":"oC3r","x":1.765,"y":-0.16},{"c":"oC3r","x":1.71,"y":-0.183},{"c":"oC3r","x":1.655,"y":-0.191},{"c":"oC3r","x":1.6,"y":-0.183},{"c":"oC3r","x":1.56,"y":-0.16},{"c":"oC3r","x":1.53,"y":-0.1},
      {"c":"oC3l","x":-1.524,"y":0},{"c":"oC3l","x":-1.53,"y":0.1},{"c":"oC3l","x":-1.56,"y":0.16},{"c":"oC3l","x":-1.6,"y":0.183},{"c":"oC3l","x":-1.655,"y":0.191},{"c":"oC3l","x":-1.71,"y":0.183},{"c":"oC3l","x":-1.765,"y":0.16},{"c":"oC3l","x":-1.8,"y":0.1},{"c":"oC3l","x":-1.81,"y":0},{"c":"oC3l","x":-1.8,"y":-0.1},{"c":"oC3l","x":-1.765,"y":-0.16},{"c":"oC3l","x":-1.71,"y":-0.183},{"c":"oC3l","x":-1.655,"y":-0.191},{"c":"oC3l","x":-1.6,"y":-0.183},{"c":"oC3l","x":-1.56,"y":-0.16},{"c":"oC3l","x":-1.53,"y":-0.1},
      {"c":"F1","x":0.515,"y":0.469},{"c":"F1","x":0.617,"y":0.494},{"c":"F1","x":0.734,"y":0.512},{"c":"F1","x":0.807,"y":0.51},{"c":"F1","x":0.86,"y":0.488},{"c":"F1","x":0.875,"y":0.45},{"c":"F1","x":0.851,"y":0.413},{"c":"F1","x":0.792,"y":0.392},{"c":"F1","x":0.748,"y":0.388},{"c":"F1","x":0.675,"y":0.407},{"c":"F1","x":0.588,"y":0.438},{"c":"F1","x":0.515,"y":0.469},{"c":"F1","x":0.456,"y":0.491},{"c":"F1","x":0.406,"y":0.509},{"c":"F1","x":0.354,"y":0.512},{"c":"F1","x":0.318,"y":0.503},{"c":"F1","x":0.31,"y":0.481},{"c":"F1","x":0.331,"y":0.459},{"c":"F1","x":0.377,"y":0.45},{"c":"F1","x":0.441,"y":0.456},
      {"c":"F2","x":-0.515,"y":0.469},{"c":"F2","x":-0.617,"y":0.494},{"c":"F2","x":-0.734,"y":0.512},{"c":"F2","x":-0.807,"y":0.51},{"c":"F2","x":-0.86,"y":0.488},{"c":"F2","x":-0.875,"y":0.45},{"c":"F2","x":-0.851,"y":0.413},{"c":"F2","x":-0.792,"y":0.392},{"c":"F2","x":-0.748,"y":0.388},{"c":"F2","x":-0.675,"y":0.407},{"c":"F2","x":-0.588,"y":0.438},{"c":"F2","x":-0.515,"y":0.469},{"c":"F2","x":-0.456,"y":0.491},{"c":"F2","x":-0.406,"y":0.509},{"c":"F2","x":-0.354,"y":0.512},{"c":"F2","x":-0.318,"y":0.503},{"c":"F2","x":-0.31,"y":0.481},{"c":"F2","x":-0.331,"y":0.459},{"c":"F2","x":-0.377,"y":0.45},{"c":"F2","x":-0.441,"y":0.456},
      {"c":"F3","x":-0.515,"y":-0.469},{"c":"F3","x":-0.617,"y":-0.494},{"c":"F3","x":-0.734,"y":-0.512},{"c":"F3","x":-0.807,"y":-0.51},{"c":"F3","x":-0.86,"y":-0.488},{"c":"F3","x":-0.875,"y":-0.45},{"c":"F3","x":-0.851,"y":-0.413},{"c":"F3","x":-0.792,"y":-0.392},{"c":"F3","x":-0.748,"y":-0.388},{"c":"F3","x":-0.675,"y":-0.407},{"c":"F3","x":-0.588,"y":-0.438},{"c":"F3","x":-0.515,"y":-0.469},{"c":"F3","x":-0.456,"y":-0.491},{"c":"F3","x":-0.406,"y":-0.509},{"c":"F3","x":-0.354,"y":-0.512},{"c":"F3","x":-0.318,"y":-0.503},{"c":"F3","x":-0.31,"y":-0.481},{"c":"F3","x":-0.331,"y":-0.459},{"c":"F3","x":-0.377,"y":-0.45},{"c":"F3","x":-0.441,"y":-0.456},
      {"c":"F4","x":0.515,"y":-0.469},{"c":"F4","x":0.617,"y":-0.494},{"c":"F4","x":0.734,"y":-0.512},{"c":"F4","x":0.807,"y":-0.51},{"c":"F4","x":0.86,"y":-0.488},{"c":"F4","x":0.875,"y":-0.45},{"c":"F4","x":0.851,"y":-0.413},{"c":"F4","x":0.792,"y":-0.392},{"c":"F4","x":0.748,"y":-0.388},{"c":"F4","x":0.675,"y":-0.407},{"c":"F4","x":0.588,"y":-0.438},{"c":"F4","x":0.515,"y":-0.469},{"c":"F4","x":0.456,"y":-0.491},{"c":"F4","x":0.406,"y":-0.509},{"c":"F4","x":0.354,"y":-0.512},{"c":"F4","x":0.318,"y":-0.503},{"c":"F4","x":0.31,"y":-0.481},{"c":"F4","x":0.331,"y":-0.459},{"c":"F4","x":0.377,"y":-0.45},{"c":"F4","x":0.441,"y":-0.456},
      {"c":"T1","x":1.45,"y":0.332},{"c":"T1","x":1.524,"y":0.335},{"c":"T1","x":1.611,"y":0.332},{"c":"T1","x":1.669,"y":0.32},{"c":"T1","x":1.705,"y":0.295},{"c":"T1","x":1.713,"y":0.264},{"c":"T1","x":1.69,"y":0.239},{"c":"T1","x":1.655,"y":0.226},{"c":"T1","x":1.611,"y":0.239},{"c":"T1","x":1.553,"y":0.27},{"c":"T1","x":1.494,"y":0.307},
      {"c":"T2","x":-1.45,"y":0.332},{"c":"T2","x":-1.524,"y":0.335},{"c":"T2","x":-1.611,"y":0.332},{"c":"T2","x":-1.669,"y":0.32},{"c":"T2","x":-1.705,"y":0.295},{"c":"T2","x":-1.713,"y":0.264},{"c":"T2","x":-1.69,"y":0.239},{"c":"T2","x":-1.655,"y":0.226},{"c":"T2","x":-1.611,"y":0.239},{"c":"T2","x":-1.553,"y":0.27},{"c":"T2","x":-1.494,"y":0.307},
      {"c":"T3","x":-1.45,"y":-0.332},{"c":"T3","x":-1.524,"y":-0.335},{"c":"T3","x":-1.611,"y":-0.332},{"c":"T3","x":-1.669,"y":-0.32},{"c":"T3","x":-1.705,"y":-0.295},{"c":"T3","x":-1.713,"y":-0.264},{"c":"T3","x":-1.69,"y":-0.239},{"c":"T3","x":-1.655,"y":-0.226},{"c":"T3","x":-1.611,"y":-0.239},{"c":"T3","x":-1.553,"y":-0.27},{"c":"T3","x":-1.494,"y":-0.307},
      {"c":"T4","x":1.45,"y":-0.332},{"c":"T4","x":1.524,"y":-0.335},{"c":"T4","x":1.611,"y":-0.332},{"c":"T4","x":1.669,"y":-0.32},{"c":"T4","x":1.705,"y":-0.295},{"c":"T4","x":1.713,"y":-0.264},{"c":"T4","x":1.69,"y":-0.239},{"c":"T4","x":1.655,"y":-0.226},{"c":"T4","x":1.611,"y":-0.239},{"c":"T4","x":1.553,"y":-0.27},{"c":"T4","x":1.494,"y":-0.307}
    ],
    "arcs": [
      {"c":"aCr","x":1.669,"y":0.32},{"c":"aCr","x":1.713,"y":0.328},{"c":"aCr","x":1.787,"y":0.33},{"c":"aCr","x":1.86,"y":0.326},{"c":"aCr","x":1.932,"y":0.307},{"c":"aCr","x":1.991,"y":0.257},{"c":"aCr","x":2.035,"y":0.17},{"c":"aCr","x":2.059,"y":0.083},{"c":"aCr","x":2.064,"y":0},{"c":"aCr","x":2.059,"y":-0.083},{"c":"aCr","x":2.035,"y":-0.17},{"c":"aCr","x":1.991,"y":-0.257},{"c":"aCr","x":1.932,"y":-0.307},{"c":"aCr","x":1.86,"y":-0.326},{"c":"aCr","x":1.787,"y":-0.33},{"c":"aCr","x":1.713,"y":-0.328},{"c":"aCr","x":1.669,"y":-0.32},
      {"c":"aCl","x":-1.669,"y":0.32},{"c":"aCl","x":-1.713,"y":0.328},{"c":"aCl","x":-1.787,"y":0.33},{"c":"aCl","x":-1.86,"y":0.326},{"c":"aCl","x":-1.932,"y":0.307},{"c":"aCl","x":-1.991,"y":0.257},{"c":"aCl","x":-2.035,"y":0.17},{"c":"aCl","x":-2.059,"y":0.083},{"c":"aCl","x":-2.064,"y":0},{"c":"aCl","x":-2.059,"y":-0.083},{"c":"aCl","x":-2.035,"y":-0.17},{"c":"aCl","x":-1.991,"y":-0.257},{"c":"aCl","x":-1.932,"y":-0.307},{"c":"aCl","x":-1.86,"y":-0.326},{"c":"aCl","x":-1.787,"y":-0.33},{"c":"aCl","x":-1.713,"y":-0.328},{"c":"aCl","x":-1.669,"y":-0.32},
      {"c":"sCr","x":1.655,"y":0.226},{"c":"sCr","x":1.655,"y":-0.226},
      {"c":"sCl","x":-1.655,"y":0.226},{"c":"sCl","x":-1.655,"y":-0.226}
    ]
  },
  "hconcat": [
    {
      "width": 550,
      "height": 549,
      "resolve": {"axis": {"x": "independent", "y": "independent"}},
      "layer": [
        {
          "data": {"name": "cells"},
          "mark": {"type": "rect", "color": "#e0e0e0"},
          "encoding": {
            "x": {"field": "x", "type": "quantitative", "scale": {"domain": [-3, 3], "nice": false, "zero": false},
              "axis": {"orient": "bottom", "offset": -274.5, "domain": false, "zindex": 2,
                "values": [-3, -2.8, -2.6, -2.4, -2.2, -2, -1.8, -1.6, -1.4, -1.2, -1, -0.8, -0.6, -0.4, -0.2, 0.2, 0.4, 0.6, 0.8, 1, 1.2, 1.4, 1.6, 1.8, 2, 2.2, 2.4, 2.6, 2.8, 3],
                "format": "~g", "labelExpr": "datum.value % 1 === 0 ? datum.label : ''",
                "tickSize": {"condition": {"test": "datum.value % 1 === 0", "value": 5}, "value": 3},
                "tickColor": "#333333", "tickWidth": 1, "labelFontSize": 17, "labelPadding": 4,
                "title": "α", "titleFontStyle": "italic", "titleFontSize": 24, "titleX": 560, "titleY": 0, "titleAlign": "left", "titleBaseline": "middle", "titleAngle": 0}},
            "x2": {"field": "x2"},
            "y": {"field": "y", "type": "quantitative", "scale": {"domain": [-3, 3], "nice": false, "zero": false},
              "axis": {"orient": "left", "offset": -275, "domain": false, "zindex": 2,
                "values": [-3, -2.8, -2.6, -2.4, -2.2, -2, -1.8, -1.6, -1.4, -1.2, -1, -0.8, -0.6, -0.4, -0.2, 0.2, 0.4, 0.6, 0.8, 1, 1.2, 1.4, 1.6, 1.8, 2, 2.2, 2.4, 2.6, 2.8, 3],
                "format": "~g", "labelExpr": "datum.value % 1 === 0 ? datum.label : ''",
                "tickSize": {"condition": {"test": "datum.value % 1 === 0", "value": 5}, "value": 3},
                "tickColor": "#333333", "tickWidth": 1, "labelFontSize": 17, "labelPadding": 1,
                "title": "β", "titleFontStyle": "italic", "titleFontSize": 24, "titleX": 0, "titleY": -18, "titleAlign": "center", "titleBaseline": "middle", "titleAngle": 0}},
            "y2": {"field": "y2"}
          }
        },
        {
          "data": {"name": "blk"},
          "mark": {"type": "rule", "color": "#333333", "strokeWidth": 1, "strokeDash": [1.5, 2]},
          "encoding": {"x": {"field": "v", "type": "quantitative", "scale": {"domain": [-3, 3], "nice": false, "zero": false}, "axis": null}}
        },
        {
          "data": {"name": "blk"},
          "mark": {"type": "rule", "color": "#333333", "strokeWidth": 1, "strokeDash": [5, 2, 1.5, 2]},
          "encoding": {"y": {"field": "v", "type": "quantitative", "scale": {"domain": [-3, 3], "nice": false, "zero": false}, "axis": null}}
        },
        {
          "data": {"name": "rdl"},
          "mark": {"type": "rule", "color": "#ff2020", "strokeWidth": 1, "strokeDash": [4, 2, 1.5, 2]},
          "encoding": {"x": {"field": "v", "type": "quantitative", "scale": {"domain": [-3, 3], "nice": false, "zero": false}, "axis": null}}
        },
        {
          "data": {"name": "rdl"},
          "mark": {"type": "rule", "color": "#ff2020", "strokeWidth": 1, "strokeDash": [4, 2, 1.5, 2]},
          "encoding": {"y": {"field": "v", "type": "quantitative", "scale": {"domain": [-3, 3], "nice": false, "zero": false}, "axis": null}}
        },
        {
          "data": {"name": "blue"},
          "mark": {"type": "line", "color": "#1010ff", "strokeWidth": 3, "interpolate": "catmull-rom", "clip": true},
          "encoding": {
            "x": {"field": "x", "type": "quantitative", "scale": {"domain": [-3, 3], "nice": false, "zero": false}, "axis": null},
            "y": {"field": "y", "type": "quantitative", "scale": {"domain": [-3, 3], "nice": false, "zero": false}, "axis": null},
            "detail": {"field": "c"},
            "order": {"value": null}
          }
        },
        {
          "data": {"name": "redOpen"},
          "mark": {"type": "line", "color": "#ff0000", "strokeWidth": 3, "interpolate": "catmull-rom", "strokeCap": "butt"},
          "encoding": {
            "x": {"field": "x", "type": "quantitative", "scale": {"domain": [-3, 3], "nice": false, "zero": false}, "axis": null},
            "y": {"field": "y", "type": "quantitative", "scale": {"domain": [-3, 3], "nice": false, "zero": false}, "axis": null},
            "detail": {"field": "c"},
            "order": {"value": null}
          }
        },
        {
          "data": {"name": "redRing"},
          "mark": {"type": "line", "color": "#ff0000", "strokeWidth": 3, "interpolate": "cardinal-closed"},
          "encoding": {
            "x": {"field": "x", "type": "quantitative", "scale": {"domain": [-3, 3], "nice": false, "zero": false}, "axis": null},
            "y": {"field": "y", "type": "quantitative", "scale": {"domain": [-3, 3], "nice": false, "zero": false}, "axis": null},
            "detail": {"field": "c"},
            "order": {"value": null}
          }
        }
      ]
    },
    {
      "width": 547,
      "height": 557,
      "resolve": {"axis": {"x": "independent", "y": "independent"}},
      "layer": [
        {
          "data": {"values": [{}]},
          "mark": {"type": "rule", "color": "#a0a0a0", "strokeWidth": 1},
          "encoding": {
            "x": {"datum": 0, "type": "quantitative", "scale": {"domain": [-2.4, 2.4], "nice": false, "zero": false}, "axis": null},
            "y": {"datum": -1.03, "type": "quantitative", "scale": {"domain": [-1.03, 1.0485], "nice": false, "zero": false}, "axis": null},
            "y2": {"datum": 1.03}
          }
        },
        {
          "data": {"name": "loops"},
          "mark": {"type": "line", "color": "#ff0000", "strokeWidth": 2.3, "interpolate": "cardinal-closed"},
          "encoding": {
            "x": {"field": "x", "type": "quantitative", "scale": {"domain": [-2.4, 2.4], "nice": false, "zero": false},
              "axis": {"orient": "bottom", "offset": -276, "domain": false, "zindex": 2, "values": [-2, -1.5, -1, -0.5, 0.5, 1, 1.5, 2],
                "format": "~g", "labelExpr": "datum.value % 1 === 0 ? datum.label : ''",
                "tickSize": -4, "tickWidth": 2, "tickColor": "black", "labelFontSize": 17, "labelPadding": 14,
                "title": "Re(𝛼)", "titleFontSize": 22, "titleX": 554, "titleY": 0, "titleAlign": "left", "titleBaseline": "middle", "titleAngle": 0}},
            "y": {"field": "y", "type": "quantitative", "scale": {"domain": [-1.03, 1.0485], "nice": false, "zero": false},
              "axis": {"orient": "left", "offset": -273.6, "domain": false, "zindex": 2, "values": [-1, -0.5, 0.5, 1],
                "format": "~g", "tickSize": -4, "tickWidth": 2, "tickColor": "black", "labelFontSize": 17, "labelPadding": 10,
                "title": "Im(𝛼)", "titleFontSize": 22, "titleX": 0, "titleY": -7, "titleAlign": "center", "titleBaseline": "middle", "titleAngle": 0}},
            "detail": {"field": "c"},
            "order": {"value": null}
          }
        },
        {
          "data": {"name": "arcs"},
          "mark": {"type": "line", "color": "#ff0000", "strokeWidth": 2.3, "interpolate": "catmull-rom"},
          "encoding": {
            "x": {"field": "x", "type": "quantitative", "scale": {"domain": [-2.4, 2.4], "nice": false, "zero": false}, "axis": null},
            "y": {"field": "y", "type": "quantitative", "scale": {"domain": [-1.03, 1.0485], "nice": false, "zero": false}, "axis": null},
            "detail": {"field": "c"},
            "order": {"value": null}
          }
        },
        {
          "data": {"values": [{}]},
          "mark": {"type": "rule", "color": "#0d0da6", "strokeWidth": 2.5},
          "encoding": {
            "x": {"datum": -2.4, "type": "quantitative", "scale": {"domain": [-2.4, 2.4], "nice": false, "zero": false}, "axis": null},
            "x2": {"datum": 2.4},
            "y": {"datum": 0, "type": "quantitative", "scale": {"domain": [-1.03, 1.0485], "nice": false, "zero": false}, "axis": null}
          }
        }
      ]
    }
  ]
}
